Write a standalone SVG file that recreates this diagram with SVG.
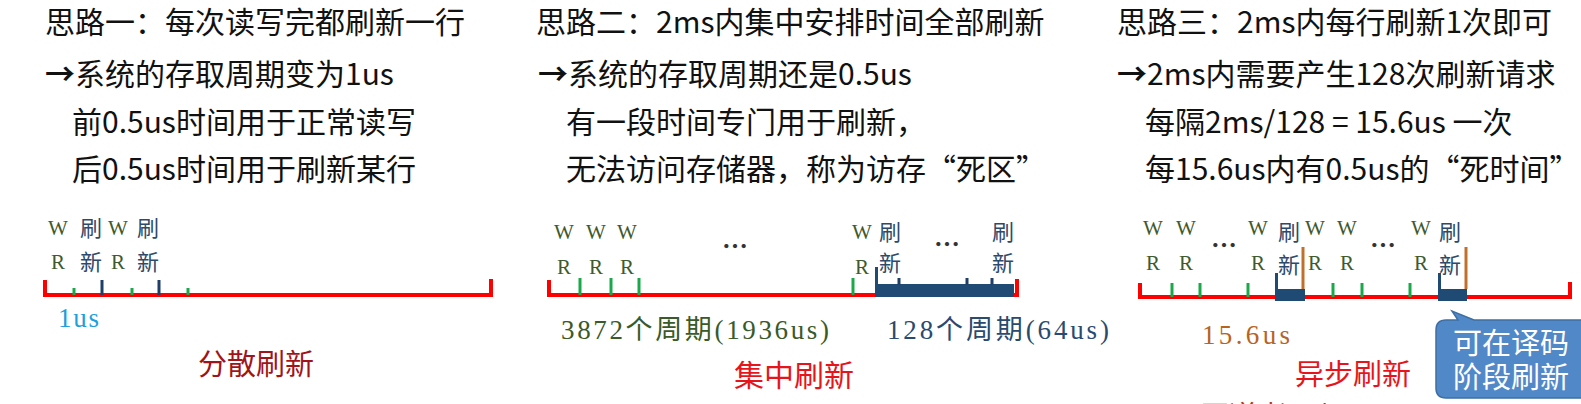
<svg xmlns="http://www.w3.org/2000/svg" width="1581" height="404" viewBox="0 0 1581 404">
<style>
.t{font-family:"Noto Sans CJK SC","Noto Sans",sans-serif;font-size:30px;fill:#111}
.ar{font-weight:bold}
.s{font-family:"Liberation Serif","Noto Sans CJK SC",serif}
.wr{font-size:21px;fill:#3f5a2c;text-anchor:middle}
.sx{font-family:"Noto Sans CJK SC",sans-serif;font-size:22px;fill:#2e4a6b;text-anchor:middle}
.dots{font-family:"Noto Sans CJK SC",sans-serif;font-size:26px;font-weight:bold;fill:#333;text-anchor:middle}
.red{fill:none;stroke:#f00;stroke-width:4}
.g{stroke:#1aa84a;stroke-width:3}
.b{stroke:#1f3f66;stroke-width:3}
.bar{fill:#1f4a74}
.or{stroke:#c0702a;stroke-width:3}
.ttl{font-family:"Noto Sans CJK SC",sans-serif;text-anchor:middle}
</style>
<rect width="1581" height="404" fill="#fff"/>
<g id="panel1">
<text class="t" x="45" y="33">思路一：每次读写完都刷新一行</text>
<text class="t" x="45" y="85"><tspan class="ar">→</tspan>系统的存取周期变为1us</text>
<text class="t" x="72" y="133">前0.5us时间用于正常读写</text>
<text class="t" x="72" y="180">后0.5us时间用于刷新某行</text>
<text class="s wr" x="58" y="235">W</text><text class="s wr" x="58" y="269">R</text>
<text class="s wr" x="118" y="235">W</text><text class="s wr" x="118" y="269">R</text>
<text class="sx" x="91" y="236">刷</text><text class="sx" x="91" y="270">新</text>
<text class="sx" x="148" y="236">刷</text><text class="sx" x="148" y="270">新</text>
<path class="red" d="M45,280 V295 H491 V279"/>
<g class="g"><line x1="74" y1="288" x2="74" y2="295"/><line x1="132" y1="288" x2="132" y2="295"/><line x1="188" y1="288" x2="188" y2="295"/></g>
<g class="b"><line x1="102" y1="280" x2="102" y2="295"/><line x1="159" y1="280" x2="159" y2="295"/></g>
<text class="s" x="58" y="327" font-size="27" fill="#1ea0dc" textLength="41">1us</text>
<text class="ttl" x="256" y="375" font-size="29" fill="#a0141a">分散刷新</text>
</g>
<g id="panel2">
<text class="t" x="536" y="33">思路二：2ms内集中安排时间全部刷新</text>
<text class="t" x="538" y="85"><tspan class="ar">→</tspan>系统的存取周期还是0.5us</text>
<text class="t" x="566" y="133">有一段时间专门用于刷新，</text>
<text class="t" x="566" y="180">无法访问存储器，称为访存“死区”</text>
<text class="s wr" x="564" y="239">W</text><text class="s wr" x="564" y="274">R</text>
<text class="s wr" x="596" y="239">W</text><text class="s wr" x="596" y="274">R</text>
<text class="s wr" x="627" y="239">W</text><text class="s wr" x="627" y="274">R</text>
<text class="s wr" x="862" y="239">W</text><text class="s wr" x="862" y="274">R</text>
<text class="dots" x="735" y="256" fill="#2a3a2a">…</text>
<text class="dots" x="947" y="254" fill="#2e4a6b">…</text>
<text class="sx" x="890" y="240">刷</text><text class="sx" x="890" y="271">新</text>
<text class="sx" x="1003" y="240">刷</text><text class="sx" x="1003" y="271">新</text>
<path class="red" d="M549,280 V295 H1017 V279"/>
<g class="g"><line x1="580" y1="278" x2="580" y2="295"/><line x1="611" y1="278" x2="611" y2="295"/><line x1="639" y1="278" x2="639" y2="295"/><line x1="853" y1="278" x2="853" y2="295"/></g>
<path class="bar" d="M875,267 h3 v17 h136 v13 h-139 z"/>
<g class="b"><line x1="899" y1="278" x2="899" y2="285"/><line x1="967" y1="278" x2="967" y2="285"/><line x1="992" y1="278" x2="992" y2="285"/></g>
<text class="s" x="561" y="339" font-size="27" fill="#3a5a28" textLength="268">3872个周期(1936us)</text>
<text class="s" x="887" y="339" font-size="27" fill="#2a4a6e" textLength="222">128个周期(64us)</text>
<text class="ttl" x="794" y="386" font-size="30" fill="#e8141b">集中刷新</text>
</g>
<g id="panel3">
<text class="t" x="1117" y="33">思路三：2ms内每行刷新1次即可</text>
<text class="t" x="1117" y="85"><tspan class="ar">→</tspan>2ms内需要产生128次刷新请求</text>
<text class="t" x="1145" y="133">每隔2ms/128 = 15.6us 一次</text>
<text class="t" x="1145" y="180">每15.6us内有0.5us的“死时间”</text>
<text class="s wr" x="1153" y="235">W</text><text class="s wr" x="1153" y="270">R</text>
<text class="s wr" x="1186" y="235">W</text><text class="s wr" x="1186" y="270">R</text>
<text class="s wr" x="1258" y="235">W</text><text class="s wr" x="1258" y="270">R</text>
<text class="s wr" x="1315" y="235">W</text><text class="s wr" x="1315" y="270">R</text>
<text class="s wr" x="1347" y="235">W</text><text class="s wr" x="1347" y="270">R</text>
<text class="s wr" x="1421" y="235">W</text><text class="s wr" x="1421" y="270">R</text>
<text class="dots" x="1224" y="255">…</text>
<text class="dots" x="1383" y="255">…</text>
<text class="sx" x="1289" y="240">刷</text><text class="sx" x="1289" y="273">新</text>
<text class="sx" x="1450" y="240">刷</text><text class="sx" x="1450" y="273">新</text>
<path class="red" d="M1140,283 V297 H1570 V282"/>
<g class="g"><line x1="1172" y1="283" x2="1172" y2="297"/><line x1="1200" y1="283" x2="1200" y2="297"/><line x1="1248" y1="283" x2="1248" y2="297"/><line x1="1333" y1="283" x2="1333" y2="297"/><line x1="1362" y1="283" x2="1362" y2="297"/><line x1="1410" y1="283" x2="1410" y2="297"/></g>
<path class="bar" d="M1275,273 h3 v16 h27 v12 h-30 z"/>
<path class="bar" d="M1438,273 h3 v16 h26 v12 h-29 z"/>
<g class="or"><line x1="1303" y1="247" x2="1303" y2="289"/><line x1="1466" y1="247" x2="1466" y2="289"/></g>
<text class="s" x="1202" y="344" font-size="27" fill="#b8631f" textLength="88">15.6us</text>
<text class="ttl" x="1353" y="385" font-size="29" fill="#e8141b">异步刷新</text>
<g id="callout">
<path d="M1446,320 L1458,320 L1452,311 L1474,320 L1600,320 L1600,398 L1446,398 Q1436,398 1436,388 L1436,330 Q1436,320 1446,320 Z" fill="#5188c8" stroke="#3d6fa3" stroke-width="1.5"/>
<text class="ttl" x="1511" y="354" font-size="29" fill="#fff">可在译码</text>
<text class="ttl" x="1511" y="388" font-size="29" fill="#fff">阶段刷新</text>
</g>
<text x="1200" y="427" font-family="Noto Sans CJK SC,sans-serif" font-size="30" fill="#b03a20" textLength="333">王道考研/CSKAOYAN.COM</text>
</g>
</svg>
